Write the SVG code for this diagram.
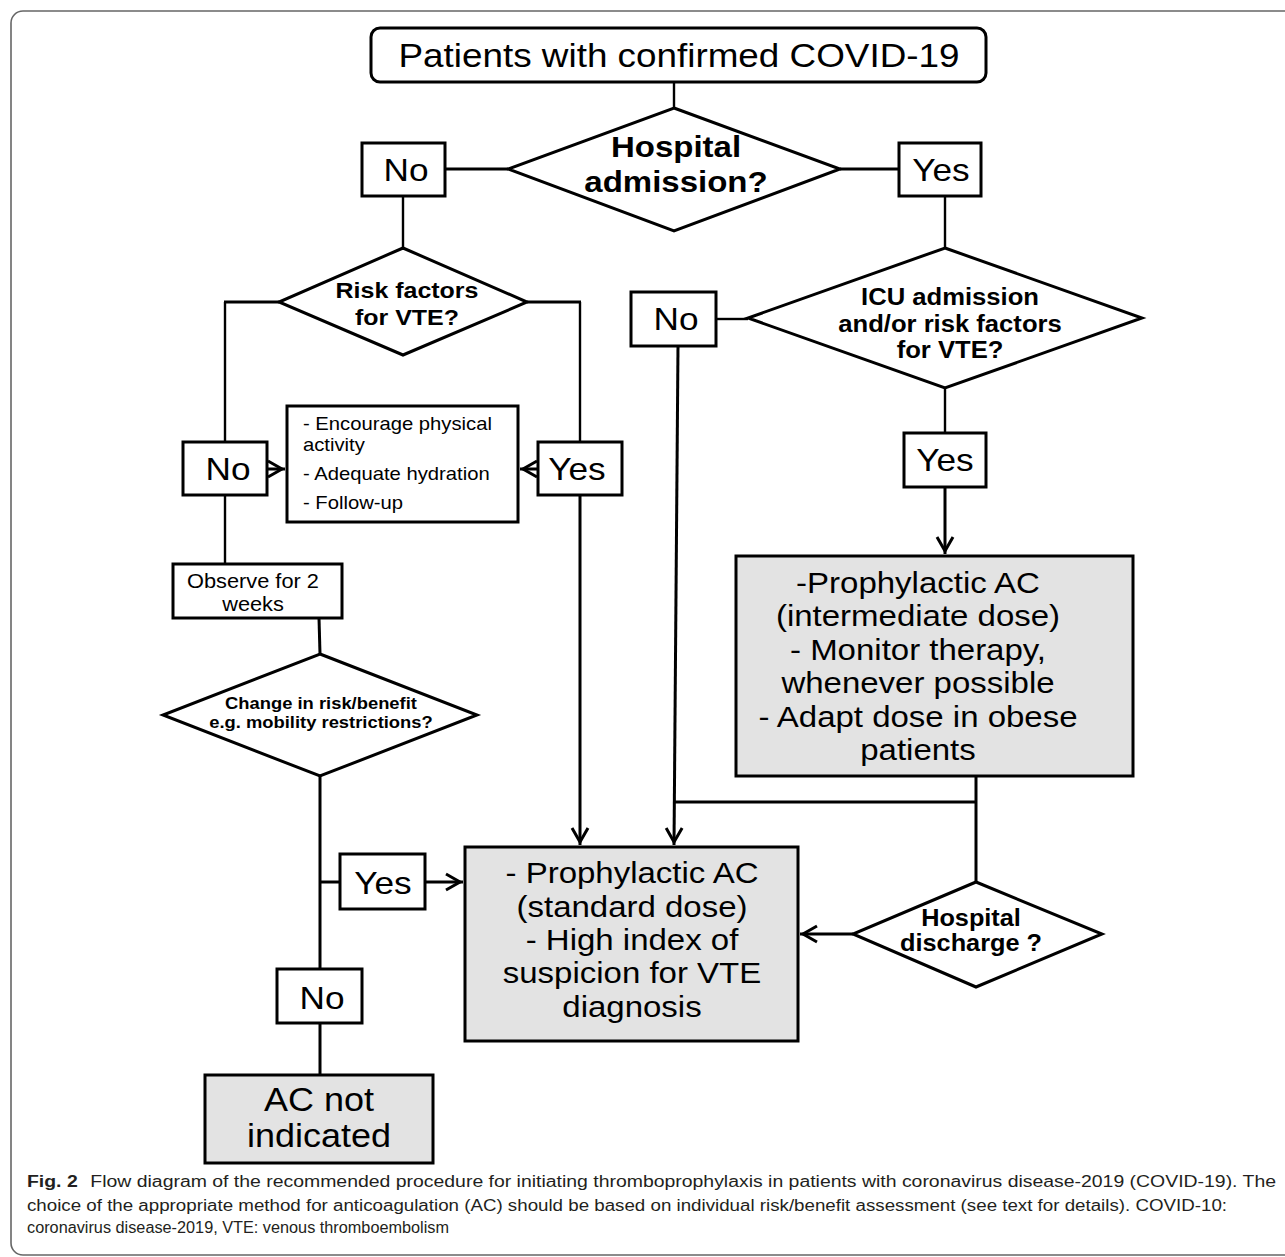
<svg xmlns="http://www.w3.org/2000/svg" width="1285" height="1257" viewBox="0 0 1285 1257">
<style>
.box{fill:#fff;stroke:#000;stroke-width:3}
.gbox{fill:#e3e3e3;stroke:#000;stroke-width:3}
.dia{fill:#fff;stroke:#000;stroke-width:3;stroke-linejoin:miter}
.ln{fill:none;stroke:#000;stroke-width:3}
.thin{stroke-width:2.4}
.arr{marker-end:url(#ah)}
text{font-family:"Liberation Sans",Arial,sans-serif;fill:#000}
.c{text-anchor:middle}
.b{font-weight:bold}
.lbl{font-size:32px}
.cap{font-size:16px;fill:#231f20}
</style>
<defs>
<marker id="ah" markerUnits="userSpaceOnUse" markerWidth="24" markerHeight="24" viewBox="-18 -12 24 24" refX="3" refY="0" orient="auto">
<path d="M-14,-8 L0,0 L-14,8" fill="none" stroke="#000" stroke-width="3"/>
</marker>
</defs>
<rect id="frame" x="11" y="11" width="1300" height="1244" rx="12" fill="none" stroke="#666" stroke-width="1.6"/>

<g id="connectors">
<line class="ln thin" x1="674" y1="82" x2="674" y2="108"/>
<line class="ln" x1="445" y1="169" x2="508" y2="169"/>
<line class="ln" x1="840" y1="169" x2="899" y2="169"/>
<line class="ln thin" x1="403" y1="196" x2="403" y2="248"/>
<line class="ln" x1="279" y1="302" x2="224" y2="302"/>
<line class="ln thin" x1="225" y1="302" x2="225" y2="442"/>
<line class="ln" x1="527" y1="302" x2="581" y2="302"/>
<line class="ln thin" x1="580" y1="302" x2="580" y2="442"/>
<line class="ln arr" x1="267" y1="469" x2="285" y2="469"/>
<line class="ln arr" x1="538" y1="469" x2="520" y2="469"/>
<line class="ln thin" x1="225" y1="495" x2="225" y2="564"/>
<line class="ln arr" x1="580" y1="495" x2="580" y2="845"/>
<line class="ln" x1="319" y1="618" x2="320" y2="654"/>
<line class="ln" x1="320" y1="776" x2="320" y2="969"/>
<line class="ln" x1="320" y1="882" x2="340" y2="882"/>
<line class="ln arr" x1="425" y1="882" x2="463" y2="882"/>
<line class="ln" x1="320" y1="1023" x2="320" y2="1075"/>
<line class="ln thin" x1="945" y1="196" x2="945" y2="248"/>
<line class="ln thin" x1="716" y1="319" x2="748" y2="319"/>
<line class="ln arr" x1="678" y1="346" x2="674" y2="845"/>
<line class="ln thin" x1="945" y1="388" x2="945" y2="433"/>
<line class="ln arr" x1="945" y1="487" x2="945" y2="554"/>
<line class="ln" x1="976" y1="776" x2="976" y2="882"/>
<line class="ln" x1="977" y1="802" x2="673" y2="802"/>
<line class="ln arr" x1="853" y1="934" x2="800" y2="934"/>
</g>

<g id="start">
<rect class="box" x="371" y="28" width="615" height="54" rx="9"/>
<text class="c" transform="matrix(1.1 0 0 1 679 0)" y="67" font-size="33.5">Patients with confirmed COVID-19</text>
</g>

<g id="hospital-admission">
<polygon class="dia" points="674,108 840,169 674,231 508,169"/>
<text class="c b" transform="matrix(1.1 0 0 1 676 0)" font-size="30"><tspan x="0" y="157">Hospital</tspan><tspan x="0" y="192">admission?</tspan></text>
</g>

<g id="no-admission">
<rect class="box" x="362" y="143" width="83" height="53"/>
<text class="c lbl" transform="matrix(1.1 0 0 1 406 0)" y="181">No</text>
</g>

<g id="yes-admission">
<rect class="box" x="899" y="143" width="82" height="53"/>
<text class="c lbl" transform="matrix(1.1 0 0 1 941 0)" y="181">Yes</text>
</g>

<g id="risk-factors">
<polygon class="dia" points="403,248 527,302 403,355 279,302"/>
<text class="c b" transform="matrix(1.1 0 0 1 407 0)" font-size="22.7"><tspan x="0" y="298">Risk factors</tspan><tspan x="0" y="325">for VTE?</tspan></text>
</g>

<g id="no-risk">
<rect class="box" x="183" y="442" width="84" height="53"/>
<text class="c lbl" transform="matrix(1.1 0 0 1 228 0)" y="480">No</text>
</g>

<g id="yes-risk">
<rect class="box" x="538" y="442" width="84" height="53"/>
<text class="c lbl" transform="matrix(1.1 0 0 1 577 0)" y="480">Yes</text>
</g>

<g id="advice">
<rect class="box" x="287" y="406" width="231" height="116"/>
<text transform="matrix(1.1 0 0 1 303 0)" font-size="18.4"><tspan x="0" y="430">- Encourage physical</tspan><tspan x="0" y="451">activity</tspan><tspan x="0" y="480">- Adequate hydration</tspan><tspan x="0" y="509">- Follow-up</tspan></text>
</g>

<g id="observe">
<rect class="box" x="173" y="564" width="169" height="54"/>
<text class="c" transform="matrix(1.1 0 0 1 253 0)" font-size="19.8"><tspan x="0" y="588">Observe for 2</tspan><tspan x="0" y="611">weeks</tspan></text>
</g>

<g id="change-risk">
<polygon class="dia" points="320,654 477,715 320,776 163,715"/>
<text class="c b" transform="matrix(1.1 0 0 1 321 0)" font-size="16.7"><tspan x="0" y="709">Change in risk/benefit</tspan><tspan x="0" y="728">e.g. mobility restrictions?</tspan></text>
</g>

<g id="yes-change">
<rect class="box" x="340" y="854" width="85" height="55"/>
<text class="c lbl" transform="matrix(1.1 0 0 1 383 0)" y="894">Yes</text>
</g>

<g id="no-change">
<rect class="box" x="277" y="969" width="85" height="54"/>
<text class="c lbl" transform="matrix(1.1 0 0 1 322 0)" y="1009">No</text>
</g>

<g id="ac-not-indicated">
<rect class="gbox" x="205" y="1075" width="228" height="88"/>
<text class="c" transform="matrix(1.1 0 0 1 319 0)" font-size="32.7"><tspan x="0" y="1111">AC not</tspan><tspan x="0" y="1147">indicated</tspan></text>
</g>

<g id="icu-admission">
<polygon class="dia" points="945,248 1142,318 945,388 748,318"/>
<text class="c b" transform="matrix(1.1 0 0 1 950 0)" font-size="23.3"><tspan x="0" y="305">ICU admission</tspan><tspan x="0" y="332">and/or risk factors</tspan><tspan x="0" y="358">for VTE?</tspan></text>
</g>

<g id="no-icu">
<rect class="box" x="631" y="292" width="85" height="54"/>
<text class="c lbl" transform="matrix(1.1 0 0 1 676 0)" y="330">No</text>
</g>

<g id="yes-icu">
<rect class="box" x="904" y="433" width="82" height="54"/>
<text class="c lbl" transform="matrix(1.1 0 0 1 945 0)" y="471">Yes</text>
</g>

<g id="intermediate-dose">
<rect class="gbox" x="736" y="556" width="397" height="220"/>
<text class="c" transform="matrix(1.1 0 0 1 918 0)" font-size="30"><tspan x="0" y="593">-Prophylactic AC</tspan><tspan x="0" y="626">(intermediate dose)</tspan><tspan x="0" y="660">- Monitor therapy,</tspan><tspan x="0" y="693">whenever possible</tspan><tspan x="0" y="727">- Adapt dose in obese</tspan><tspan x="0" y="760">patients</tspan></text>
</g>

<g id="hospital-discharge">
<polygon class="dia" points="976,882 1102,934 976,987 853,934"/>
<text class="c b" transform="matrix(1.1 0 0 1 971 0)" font-size="23"><tspan x="0" y="926">Hospital</tspan><tspan x="0" y="951">discharge ?</tspan></text>
</g>

<g id="standard-dose">
<rect class="gbox" x="465" y="847" width="333" height="194"/>
<text class="c" transform="matrix(1.1 0 0 1 632 0)" font-size="30"><tspan x="0" y="883">- Prophylactic AC</tspan><tspan x="0" y="917">(standard dose)</tspan><tspan x="0" y="950">- High index of</tspan><tspan x="0" y="983">suspicion for VTE</tspan><tspan x="0" y="1017">diagnosis</tspan></text>
</g>

<g id="caption">
<text class="cap" x="27" y="1187" textLength="1249" lengthAdjust="spacingAndGlyphs"><tspan font-weight="bold">Fig. 2</tspan><tspan dx="6"> Flow diagram of the recommended procedure for initiating thromboprophylaxis in patients with coronavirus disease-2019 (COVID-19). The</tspan></text>
<text class="cap" x="27" y="1211" textLength="1200" lengthAdjust="spacingAndGlyphs">choice of the appropriate method for anticoagulation (AC) should be based on individual risk/benefit assessment (see text for details). COVID-10:</text>
<text class="cap" x="27" y="1233" textLength="422" lengthAdjust="spacingAndGlyphs">coronavirus disease-2019, VTE: venous thromboembolism</text>
</g>
</svg>
